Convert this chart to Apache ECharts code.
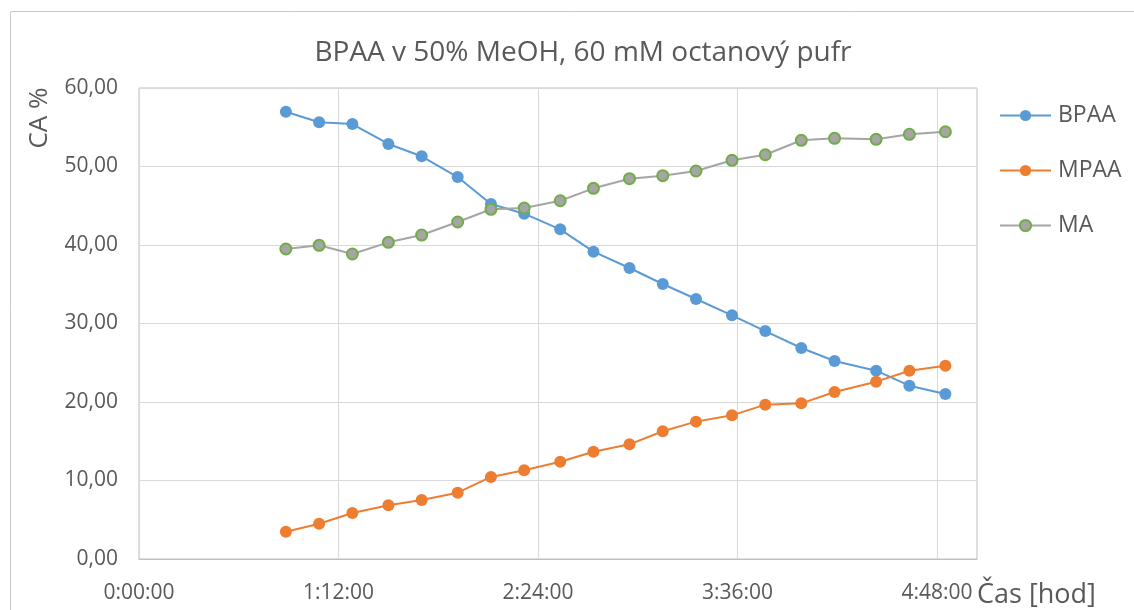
<!DOCTYPE html>
<html>
<head>
<meta charset="utf-8">
<script src="https://cdn.jsdelivr.net/npm/echarts@6/dist/echarts.min.js"></script>
<style>
  html, body { margin: 0; padding: 0; background: #fff; }
  #chart { width: 1134px; height: 610px; }
</style>
</head>
<body>
<div id="chart"></div>
<script>
// time in minutes since start
var times = [53, 65, 77, 90, 102, 115, 127, 139, 152, 164, 177, 189, 201, 214, 226, 239, 251, 266, 278, 291];
var bpaa = [56.98, 55.63, 55.41, 52.87, 51.30, 48.66, 45.22, 43.99, 42.00, 39.15, 37.07, 35.03, 33.12, 31.04, 29.04, 26.88, 25.22, 23.99, 22.08, 21.02];
var mpaa = [3.48, 4.50, 5.86, 6.84, 7.52, 8.45, 10.45, 11.30, 12.39, 13.67, 14.61, 16.27, 17.50, 18.30, 19.66, 19.83, 21.27, 22.59, 23.99, 24.62];
var ma = [39.49, 39.96, 38.85, 40.34, 41.27, 42.93, 44.55, 44.71, 45.64, 47.22, 48.45, 48.83, 49.43, 50.79, 51.50, 53.34, 53.59, 53.46, 54.10, 54.43];
var xTicks = ['0:00:00', '1:12:00', '2:24:00', '3:36:00', '4:48:00'];

var font = '"Open Sans", sans-serif';
var textColor = '#595959';

function pairs(ys) {
    return times.map(function (t, i) { return [t, ys[i]]; });
}

var chart = echarts.init(document.getElementById('chart'));
chart.setOption({
    animation: false,
    title: {
        text: 'BPAA v 50% MeOH, 60 mM octanový pufr',
        left: 578,
        textAlign: 'center',
        top: 34,
        textStyle: { fontFamily: font, fontSize: 28, fontWeight: 'normal', color: textColor }
    },
    legend: {
        orient: 'vertical',
        left: 994,
        top: 99,
        itemWidth: 51,
        itemHeight: 14,
        itemGap: 32,
        textStyle: { fontFamily: font, fontSize: 23, color: textColor, padding: [0, 0, 0, 2] },
        data: ['BPAA', 'MPAA', 'MA']
    },
    graphic: [{
        type: 'rect',
        shape: { x: 10.5, y: 11.5, width: 1200, height: 700 },
        style: { fill: 'none', stroke: '#c8c8c8', lineWidth: 1 },
        silent: true
    }],
    grid: {
        left: 139, right: 157, top: 88, bottom: 51,
        show: true, borderColor: '#bfbfbf', borderWidth: 1
    },
    xAxis: {
        type: 'value',
        min: 0,
        max: 302.4,
        interval: 72,
        name: 'Čas [hod]',
        nameLocation: 'end',
        nameGap: 0,
        nameMoveOverlap: false,
        nameTextStyle: { fontFamily: font, fontSize: 27, color: textColor, align: 'left', verticalAlign: 'top', padding: [23, 0, 0, 0] },
        axisLine: { show: true, lineStyle: { color: '#bfbfbf', width: 1 } },
        axisTick: { show: false },
        splitLine: { show: true, lineStyle: { color: ['#d9d9d9', '#d9d9d9', '#d9d9d9', '#d9d9d9', '#d9d9d9', 'rgba(0,0,0,0)'], width: 1 } },
        axisLabel: {
            fontFamily: font, fontSize: 21, color: textColor, margin: 24,
            showMaxLabel: false,
            formatter: function (v) {
                var i = Math.round(v / 72);
                return Math.abs(v - i * 72) < 0.01 ? xTicks[i] : '';
            }
        }
    },
    yAxis: {
        type: 'value',
        min: 0,
        max: 60,
        interval: 10,
        name: 'CA %',
        nameLocation: 'end',
        nameRotate: 90,
        nameGap: -30,
        nameMoveOverlap: false,
        nameTextStyle: { fontFamily: font, fontSize: 26, color: textColor, align: 'center', verticalAlign: 'bottom', padding: [0, 0, 86, 0] },
        axisLine: { show: false },
        axisTick: { show: false },
        splitLine: { lineStyle: { color: '#d9d9d9', width: 1 } },
        axisLabel: {
            fontFamily: font, fontSize: 21, color: textColor, margin: 21,
            formatter: function (v) { return v.toFixed(2).replace('.', ','); }
        }
    },
    series: [
        {
            name: 'BPAA', type: 'line', data: pairs(bpaa),
            symbol: 'circle', symbolSize: 12,
            lineStyle: { color: '#5b9bd5', width: 2 },
            itemStyle: { color: '#5b9bd5' }
        },
        {
            name: 'MPAA', type: 'line', data: pairs(mpaa),
            symbol: 'circle', symbolSize: 12,
            lineStyle: { color: '#ed7d31', width: 2 },
            itemStyle: { color: '#ed7d31' }
        },
        {
            name: 'MA', type: 'line', data: pairs(ma),
            symbol: 'circle', symbolSize: 11,
            lineStyle: { color: '#a5a5a5', width: 2 },
            itemStyle: { color: '#a5a5a5', borderColor: '#70ad47', borderWidth: 2 }
        }
    ]
});
</script>
</body>
</html>
